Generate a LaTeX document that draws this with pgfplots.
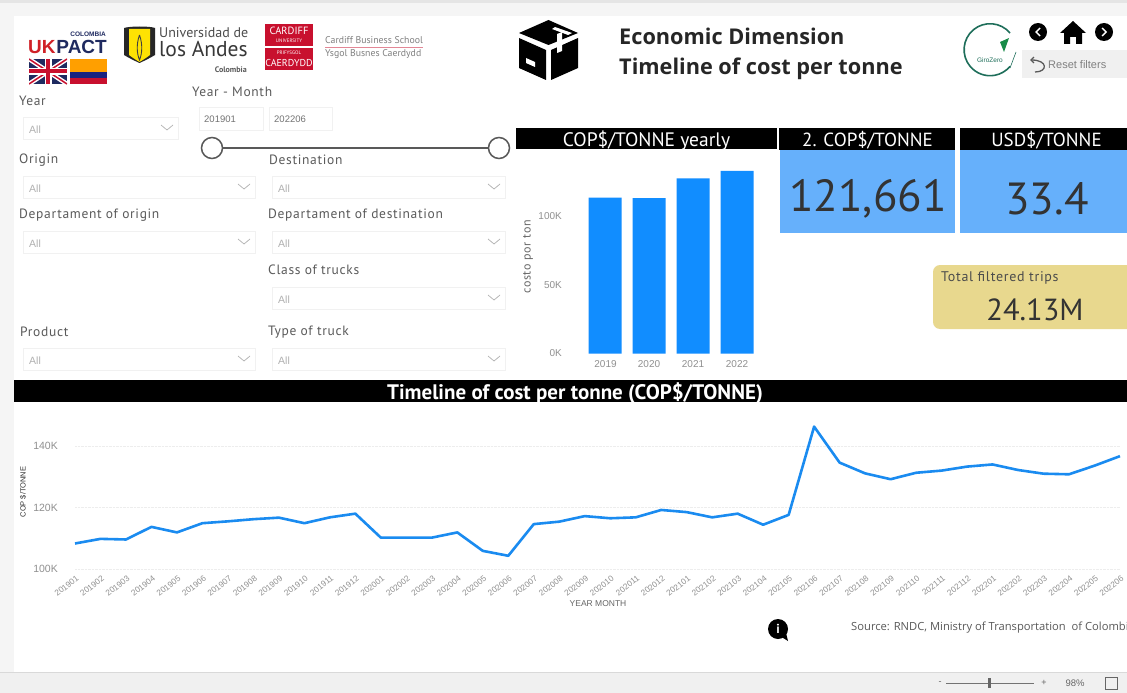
\documentclass[border=0pt]{standalone}
\usepackage{fontspec}
\usepackage{pgfplots}
\pgfplotsset{compat=1.18}
\usetikzlibrary{calc,arrows.meta}
\setmainfont{PT Sans}
\newfontfamily\seg{Open Sans}
\newfontfamily\arl{Liberation Sans}
\newfontfamily\din[LetterSpace=5]{PT Sans}
\newcommand\fs[1]{\fontsize{#1}{#1}\selectfont}
\definecolor{barblue}{HTML}{118DFF}
\definecolor{cardblue}{HTML}{66B0FB}
\definecolor{lineblue}{HTML}{1A8BF0}
\definecolor{sand}{HTML}{E8D88E}
\definecolor{label}{HTML}{5A5A5A}
\definecolor{hint}{HTML}{B0B0B0}
\definecolor{edge}{HTML}{F1F1F1}
\definecolor{ticktxt}{HTML}{909090}
\definecolor{crest}{HTML}{C8102E}
\definecolor{navy}{HTML}{1F2A60}
\definecolor{gz}{HTML}{1E6E5A}
\pgfplotstableread{
m cost
0 108300
1 109800
2 109600
3 113700
4 111900
5 114900
6 115500
7 116200
8 116700
9 114900
10 116800
11 118000
12 110200
13 110200
14 110200
15 111900
16 105900
17 104300
18 114600
19 115400
20 117200
21 116500
22 116800
23 119200
24 118500
25 116800
26 118000
27 114400
28 117600
29 146300
30 134600
31 131100
32 129200
33 131300
34 132000
35 133300
36 134000
37 132200
38 131000
39 130800
40 133600
41 136700
}\monthly
\pgfplotstableread{
yr cost
2019 113400
2020 113000
2021 127500
2022 132800
}\yearly
\begin{document}
\begin{tikzpicture}
\begin{scope}[x=1pt,y=-1pt]
\clip (0,0) rectangle (1127,693);
% page background and canvas
\fill[white!96!black] (0,0) rectangle (1127,693);
\fill[white!90!black] (0,0) rectangle (1127,3);
\fill[white] (14,16) rectangle (1127,672);
\fill[white!94!black] (0,672) rectangle (1127,693);
\draw[white!85!black,line width=.8pt] (0,672) -- (1127,672);

% partner logos
\node[anchor=base east,font=\arl\bfseries\fs{6.5},text=navy,inner sep=0] at (106,37) {COLOMBIA};
\node[anchor=base west,font=\arl\bfseries\fs{19},text=crest!85!orange,inner sep=0] at (28,54) {UK};
\node[anchor=base east,font=\arl\bfseries\fs{19},text=navy,inner sep=0] at (107,54) {PACT};
\fill[navy] (29,59) rectangle (67,84);
\begin{scope}
\clip (29,59) rectangle (67,84);
\draw[white,line width=4.5pt] (29,59) -- (67,84) (29,84) -- (67,59);
\draw[crest,line width=1.5pt] (29,59) -- (67,84) (29,84) -- (67,59);
\draw[white,line width=7pt] (48,59) -- (48,84) (29,71.5) -- (67,71.5);
\draw[crest,line width=4pt] (48,59) -- (48,84) (29,71.5) -- (67,71.5);
\end{scope}
\fill[orange!75!yellow] (70,59) rectangle (107,72);
\fill[navy!80!blue] (70,72) rectangle (107,78);
\fill[crest] (70,78) rectangle (107,84);

\fill[black!85] (124,28) .. controls (130,26) and (150,26) .. (155,28) -- (155,55) .. controls (150,58) and (146,60) .. (139.5,63) .. controls (133,60) and (129,58) .. (124,55) -- cycle;
\fill[yellow!85!orange] (129,29) -- (150,29) -- (150,55) .. controls (146,58) and (143,60) .. (139.5,62) .. controls (136,60) and (133,58) .. (129,55) -- cycle;
\draw[black!75,line width=.9pt] (139.5,35) .. controls (136,45) and (137,54) .. (139.5,60) .. controls (142,54) and (143,45) .. (139.5,35);
\node[anchor=base west,font=\fs{14},text=black!70,inner sep=0] at (159,38) {Universidad de};
\node[anchor=base west,font=\fs{21.5},text=black!78,inner sep=0] at (159,57) {los Andes};
\node[anchor=base east,font=\bfseries\fs{8},text=black!65,inner sep=0] at (247,73) {Colombia};

\fill[crest] (265,24) rectangle (313,46);
\fill[crest] (265,48) rectangle (313,70);
\node[font=\fs{10.5},text=white,inner sep=0] at (289,31) {CARDIFF};
\node[font=\fs{5},text=white,inner sep=0] at (289,41) {UNIVERSITY};
\node[font=\fs{5},text=white,inner sep=0] at (289,53) {PRIFYSGOL};
\node[font=\fs{10},text=white,inner sep=0] at (289,63) {CAERDYDD};
\node[anchor=west,font=\fs{9.8},text=black!50,inner sep=0] at (325,40) {Cardiff Business School};
\draw[crest!50,line width=.6pt] (325,47) -- (423,47);
\node[anchor=west,font=\fs{9.8},text=black!50,inner sep=0] at (325,54.5) {Ysgol Busnes Caerdydd};

% slicer panel
\foreach \x/\y/\t in {19/101/Year,192/92/Year - Month,19/160/Origin,269/160/Destination,19/215/Departament of origin,268/215/Departament of destination,268/270/Class of trucks,20/332/Product,268/332/Type of truck}
  \node[anchor=west,font=\din\fs{13.5},text=label,inner sep=0] at (\x,\y) {\t};
\foreach \xa/\xb/\y in {23/178/117,23/255/176,272/505/176,23/255/231,272/505/231,272/505/287,23/255/348,272/505/348}{
  \draw[edge,line width=.7pt] (\xa,\y) rectangle (\xb,\y+22);
  \node[anchor=west,font=\arl\fs{10.5},text=hint,inner sep=0] at (\xa+6,\y+13) {All};
  \draw[hint,line width=.7pt] (\xb-17,\y+8) -- (\xb-11,\y+13) -- (\xb-5,\y+8);
}
\draw[edge,line width=.7pt] (199,107) rectangle (263,130);
\draw[edge,line width=.7pt] (269,107) rectangle (332,130);
\node[anchor=west,font=\arl\fs{9.5},text=black!55,inner sep=0] at (204,119.5) {201901};
\node[anchor=west,font=\arl\fs{9.5},text=black!55,inner sep=0] at (274,119.5) {202206};
\draw[black!65,line width=1.7pt] (212,148) -- (499,148);
\draw[black!65,line width=1.5pt,fill=white] (212,148) circle (10.5);
\draw[black!65,line width=1.5pt,fill=white] (499,148) circle (10.5);

% heading and navigation
\fill[black] (548.5,20) -- (578,33) -- (548.5,45) -- (519,33) -- cycle;
\fill[black] (519,38) -- (546,50) -- (546,80) -- (519,68) -- cycle;
\fill[black] (551,50) -- (578,38) -- (578,68) -- (551,80) -- cycle;
\fill[white] (555,27) -- (572,33) -- (568,35) -- (552,29) -- cycle;
\fill[white] (557,34) -- (562,32) -- (562,51) -- (557,53) -- cycle;
\fill[white] (526,58) -- (535,62) -- (535,67) -- (526,63) -- cycle;
\node[anchor=west,font=\seg\bfseries\fs{21.7},text=black!85,inner sep=0] at (619,36.5) {Economic Dimension};
\node[anchor=west,font=\seg\bfseries\fs{21.7},text=black!85,inner sep=0] at (619,68.5) {Timeline of cost per tonne};
\draw[gz,line width=1.6pt] (1010,33) arc[start angle=-40,end angle=-320,radius=26];
\draw[gz,line width=.6pt] (1016,52) -- (1010,68);
\fill[gz!80!green] (1000,42) -- (1009,38) -- (1004,52) -- cycle;
\node[font=\arl\fs{6.5},text=gz,inner sep=0] at (990,60) {GiroZero};
\foreach \x in {1038,1104} \fill[black] (\x,32) circle (9);
\draw[white,line width=1.4pt] (1040,28) -- (1036,32) -- (1040,36);
\draw[white,line width=1.4pt] (1102,28) -- (1106,32) -- (1102,36);
\fill[black] (1073,21) -- (1086,33) -- (1082,33) -- (1082,44) -- (1076,44) -- (1076,37) -- (1070,37) -- (1070,44) -- (1064,44) -- (1064,33) -- (1060,33) -- cycle;
\fill[white!94!black] (1022,50) rectangle (1127,78);
\draw[black!65,line width=1.3pt,-{Straight Barb[length=3pt]}] (1035,72) .. controls (1048,72) and (1048,60) .. (1030,60);
\node[anchor=west,font=\arl\fs{11},text=black!50,inner sep=0] at (1048,65) {Reset filters};

% cards
\fill[black] (516,128) rectangle (777,149);
\fill[black] (779,128) rectangle (955,150);
\fill[black] (960,128) rectangle (1127,150);
\fill[cardblue] (780,150) rectangle (955,233);
\fill[cardblue] (960,150) rectangle (1127,233);
\node[font=\fs{19.5},text=white,inner sep=0] at (646.5,140.5) {COP\$/TONNE yearly};
\node[font=\fs{19},text=white,inner sep=0] at (867.5,140.5) {2. COP\$/TONNE};
\node[font=\fs{19},text=white,inner sep=0] at (1046.5,140.5) {USD\$/TONNE};
\node[font=\fs{45},text=black!80,inner sep=0] at (868,199) {121,661};
\node[font=\fs{45},text=black!80,inner sep=0] at (1047,199) {33.4};
\fill[sand,rounded corners=7pt] (933,265) rectangle (1140,329);
\node[anchor=west,font=\din\fs{14},text=black!70,inner sep=0] at (941,278) {Total filtered trips};
\node[font=\fs{30.5},text=black!80,inner sep=0] at (1035,310) {24.13M};

% timeline banner
\fill[black] (14,380) rectangle (1127,402);
\node[font=\bfseries\fs{21},text=white,inner sep=0] at (575,393) {Timeline of cost per tonne (COP\$/TONNE)};

% footer
\fill[black] (778,629) circle (10);
\fill[black] (780,636) -- (788,641) -- (786,633) -- cycle;
\node[font=\bfseries\fs{13},text=white,inner sep=0] at (778,629) {i};
\node[anchor=west,font=\seg\fs{11.2},text=black!65,inner sep=0] at (851,628) {Source: RNDC, Ministry of Transportation\ \ of Colombia};
\draw[black!55,line width=.7pt] (946,683) -- (1034,683);
\fill[black!60] (988,678) rectangle (991,688);
\node[font=\arl\fs{9},text=black!60,inner sep=0] at (940,683) {-};
\node[font=\arl\fs{9},text=black!60,inner sep=0] at (1044,683) {+};
\node[font=\arl\fs{9.5},text=black!60,inner sep=0] at (1075,683) {98\%};
\draw[black!60,line width=.8pt] (1105,677) rectangle (1117,689);

% yearly bars
\begin{axis}[
  at={(583pt,-353.5pt)},anchor=south west,scale only axis,
  width=176pt,height=193.5pt,
  xmin=2018.5,xmax=2022.5,ymin=0,ymax=140800,
  axis lines=none,clip=false,
  ybar,bar width=33pt,
  tick style={draw=none},
]
\addplot[fill=barblue,draw=none,bar shift=0pt] table[x=yr,y=cost] {\yearly};
\end{axis}
\foreach \y/\t in {353.5/0K,285/50K,216/100K}
  \node[anchor=east,font=\arl\fs{10},text=ticktxt,inner sep=0] at (562,\y) {\t};
\foreach \x/\t in {605.5/2019,649/2020,693/2021,737/2022}
  \node[font=\arl\fs{10},text=ticktxt,inner sep=0] at (\x,364) {\t};
\node[rotate=90,font=\din\fs{12},text=black!60,inner sep=0] at (528,257) {costo por ton};

% monthly line
\begin{axis}[
  at={(75pt,-569pt)},anchor=south west,scale only axis,
  width=1045pt,height=149pt,
  xmin=0,xmax=41,ymin=100000,ymax=148455,
  clip=false,
  scaled y ticks=false,
  axis x line*=bottom,axis y line*=left,
  x axis line style={draw=none},y axis line style={draw=none},
  tick style={draw=none},
  xtick={0,...,41},
  xticklabels={201901,201902,201903,201904,201905,201906,201907,201908,201909,201910,201911,201912,202001,202002,202003,202004,202005,202006,202007,202008,202009,202010,202011,202012,202101,202102,202103,202104,202105,202106,202107,202108,202109,202110,202111,202112,202201,202202,202203,202204,202205,202206},
  x tick label style={rotate=38,anchor=north east,font=\arl\fs{8.3},text=ticktxt,inner sep=0,xshift=-3pt,yshift=-5pt},
  ytick={100000,120000,140000},
  yticklabels={100K,120K,140K},
  y tick label style={font=\arl\fs{10.5},text=ticktxt,inner sep=0,xshift=-17pt},
  ymajorgrids,
  grid style={densely dotted,line width=.5pt,black!7},
  xmajorgrids=false,
]
\addplot[lineblue,line width=2.6pt,line join=round,no marks] table[x=m,y=cost] {\monthly};
\end{axis}
\node[font=\arl\fs{8.5},text=black!60,inner sep=0] at (598,604) {YEAR MONTH};
\node[rotate=90,font=\arl\fs{7.5},text=black!80,inner sep=0] at (23,492) {COP \$/TONNE};
\end{scope}
\end{tikzpicture}
\end{document}
